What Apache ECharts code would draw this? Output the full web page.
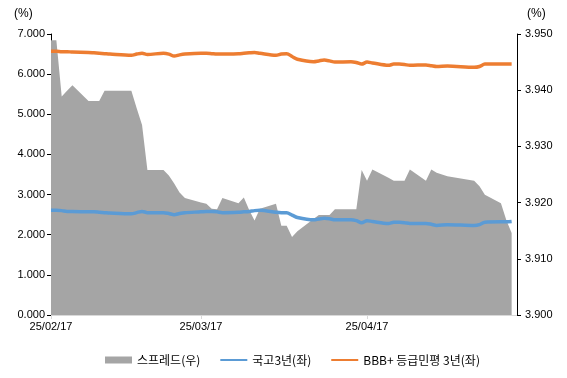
<!DOCTYPE html>
<html>
<head>
<meta charset="utf-8">
<script src="https://cdn.jsdelivr.net/npm/echarts@6/dist/echarts.min.js"></script>
<style>
  html, body { margin: 0; padding: 0; background: #fff; }
  #chart { width: 567px; height: 378px; }
</style>
</head>
<body>
<div id="chart"></div>
<script>
// business days (holidays 3/3, 5/1, 5/5, 5/6 skipped)
const dates = [
  "2025-02-17", "2025-02-18", "2025-02-19", "2025-02-20", "2025-02-21",
  "2025-02-24", "2025-02-25", "2025-02-26", "2025-02-27", "2025-02-28",
  "2025-03-04", "2025-03-05", "2025-03-06", "2025-03-07",
  "2025-03-10", "2025-03-11", "2025-03-12", "2025-03-13", "2025-03-14",
  "2025-03-17", "2025-03-18", "2025-03-19", "2025-03-20", "2025-03-21",
  "2025-03-24", "2025-03-25", "2025-03-26", "2025-03-27", "2025-03-28",
  "2025-03-31", "2025-04-01", "2025-04-02", "2025-04-03", "2025-04-04",
  "2025-04-07", "2025-04-08", "2025-04-09", "2025-04-10", "2025-04-11",
  "2025-04-14", "2025-04-15", "2025-04-16", "2025-04-17", "2025-04-18",
  "2025-04-21", "2025-04-22", "2025-04-23", "2025-04-24", "2025-04-25",
  "2025-04-28", "2025-04-29", "2025-04-30", "2025-05-02",
  "2025-05-07", "2025-05-08", "2025-05-09",
  "2025-05-12", "2025-05-13", "2025-05-14",
];

// 스프레드 (right axis)
const spread = [
  3.9489, 3.9489, 3.9389, 3.9399, 3.9409,
  3.9381, 3.9381, 3.9381, 3.9399, 3.9399,
  3.9399, 3.9368, 3.9338, 3.9258,
  3.9258, 3.9248, 3.9234, 3.9218, 3.9208,
  3.92, 3.9198, 3.9189, 3.9188, 3.9208,
  3.9199, 3.9209, 3.9187, 3.9168, 3.9189,
  3.9198, 3.9159, 3.9159, 3.9139, 3.9149,
  3.9171, 3.9178, 3.9178, 3.9178, 3.9188,
  3.9188, 3.9188, 3.9258, 3.9239, 3.9259,
  3.9244, 3.9239, 3.9239, 3.9239, 3.9259,
  3.9239, 3.9259, 3.9253, 3.9247,
  3.9239, 3.9229, 3.9214,
  3.9199, 3.9169, 3.9146,
];

// 국고3년 (left axis)
const ktb3y = [
  2.61, 2.61, 2.6, 2.58, 2.58,
  2.57, 2.57, 2.56, 2.55, 2.54,
  2.52, 2.55, 2.58, 2.55,
  2.55, 2.53, 2.5, 2.53, 2.55,
  2.57, 2.58, 2.58, 2.57, 2.55,
  2.56, 2.57, 2.58, 2.6, 2.61,
  2.56, 2.55, 2.55, 2.49, 2.43,
  2.37, 2.39, 2.41, 2.4, 2.37,
  2.37, 2.35, 2.3, 2.35, 2.33,
  2.28, 2.31, 2.31, 2.3, 2.28,
  2.28, 2.26, 2.23, 2.25,
  2.23, 2.25, 2.31,
  2.32, 2.32, 2.33,
];

// BBB+ 등급민평 3년 (left axis)
const bbbPlus = [
  6.57, 6.57, 6.56, 6.56, 6.55,
  6.54, 6.53, 6.52, 6.51, 6.5,
  6.47, 6.5, 6.52, 6.49,
  6.52, 6.5, 6.45, 6.48, 6.5,
  6.52, 6.52, 6.51, 6.5, 6.5,
  6.51, 6.52, 6.53, 6.54, 6.52,
  6.47, 6.5, 6.51, 6.44, 6.37,
  6.31, 6.33, 6.35, 6.33, 6.3,
  6.31, 6.29, 6.25, 6.3, 6.28,
  6.22, 6.25, 6.25, 6.24, 6.22,
  6.23, 6.21, 6.19, 6.2,
  6.17, 6.19, 6.25,
  6.25, 6.25, 6.25,
];

const tickLabels = ["25/02/17", "25/03/17", "25/04/17"];

// calendar-day axis like excel's date axis
const toLabel = (d) =>
  String(d.getUTCFullYear()).slice(2) + "/" +
  String(d.getUTCMonth() + 1).padStart(2, "0") + "/" +
  String(d.getUTCDate()).padStart(2, "0");

let days = [];
let iso = [];
for (let t = Date.UTC(2025, 1, 17); t <= Date.UTC(2025, 4, 15); t += 86400000) {
  let d = new Date(t);
  days.push(toLabel(d));
  iso.push(d.toISOString().slice(0, 10));
}
const pick = (arr) => iso.map((s) => {
  let i = dates.indexOf(s);
  return i < 0 ? null : arr[i];
});

const showLabel = (idx, value) => tickLabels.includes(value);

const axisText = { color: "#000", fontSize: 11, fontFamily: "Liberation Sans, Arial, sans-serif" };

let option = {
  animation: false,
  backgroundColor: "#fff",
  grid: { left: 51, right: 50, top: 34, bottom: 63 },
  legend: {
    left: 100,
    top: 349,
    itemWidth: 27,
    itemHeight: 7,
    itemGap: 19,
    textStyle: { color: "#000", fontSize: 12, fontFamily: "Noto Sans CJK KR, sans-serif" },
    data: [
      { name: "스프레드(우)", icon: "rect" },
      { name: "국고3년(좌)", itemStyle: { opacity: 0 } },
      { name: "BBB+ 등급민평 3년(좌)", itemStyle: { opacity: 0 } },
    ],
  },
  graphic: [
    { type: "text", left: 14, top: 8, style: { text: "(%)", fill: "#000", font: "12px Liberation Sans, Arial" } },
    { type: "text", left: 527, top: 8, style: { text: "(%)", fill: "#000", font: "12px Liberation Sans, Arial" } },
  ],
  xAxis: {
    type: "category",
    data: days,
    boundaryGap: false,
    axisLine: { lineStyle: { color: "#d9d9d9" } },
    axisTick: { interval: showLabel, length: 4, lineStyle: { color: "#d9d9d9" } },
    axisLabel: { interval: showLabel, margin: 6, ...axisText },
    splitLine: { show: false },
  },
  yAxis: [
    {
      type: "value",
      min: 0,
      max: 7,
      interval: 1,
      axisLine: { show: true, lineStyle: { color: "#000" } },
      axisTick: { show: true, length: 4, lineStyle: { color: "#000" } },
      axisLabel: { margin: 6, formatter: (v) => v.toFixed(3), ...axisText },
      splitLine: { show: false },
    },
    {
      type: "value",
      min: 3.9,
      max: 3.95,
      interval: 0.01,
      axisLine: { show: true, lineStyle: { color: "#000" } },
      axisTick: { show: true, length: 4, lineStyle: { color: "#000" } },
      axisLabel: { margin: 8, formatter: (v) => v.toFixed(3), ...axisText },
      splitLine: { show: false },
    },
  ],
  series: [
    {
      name: "스프레드(우)",
      type: "line",
      yAxisIndex: 1,
      data: pick(spread),
      connectNulls: true,
      symbol: "none",
      lineStyle: { width: 0 },
      itemStyle: { color: "#a5a5a5" },
      areaStyle: { color: "#a5a5a5", opacity: 1, origin: "start" },
      z: 1,
    },
    {
      name: "국고3년(좌)",
      type: "line",
      yAxisIndex: 0,
      data: pick(ktb3y),
      connectNulls: true,
      symbol: "none",
      smooth: 0.3,
      lineStyle: { width: 3.5, color: "#5b9bd5" },
      itemStyle: { color: "#5b9bd5" },
      z: 3,
    },
    {
      name: "BBB+ 등급민평 3년(좌)",
      type: "line",
      yAxisIndex: 0,
      data: pick(bbbPlus),
      connectNulls: true,
      symbol: "none",
      smooth: 0.3,
      lineStyle: { width: 3.5, color: "#ed7d31" },
      itemStyle: { color: "#ed7d31" },
      z: 3,
    },
  ],
};

let myChart = echarts.init(document.getElementById("chart"), null, { renderer: "canvas" });
myChart.setOption(option);
</script>
</body>
</html>
